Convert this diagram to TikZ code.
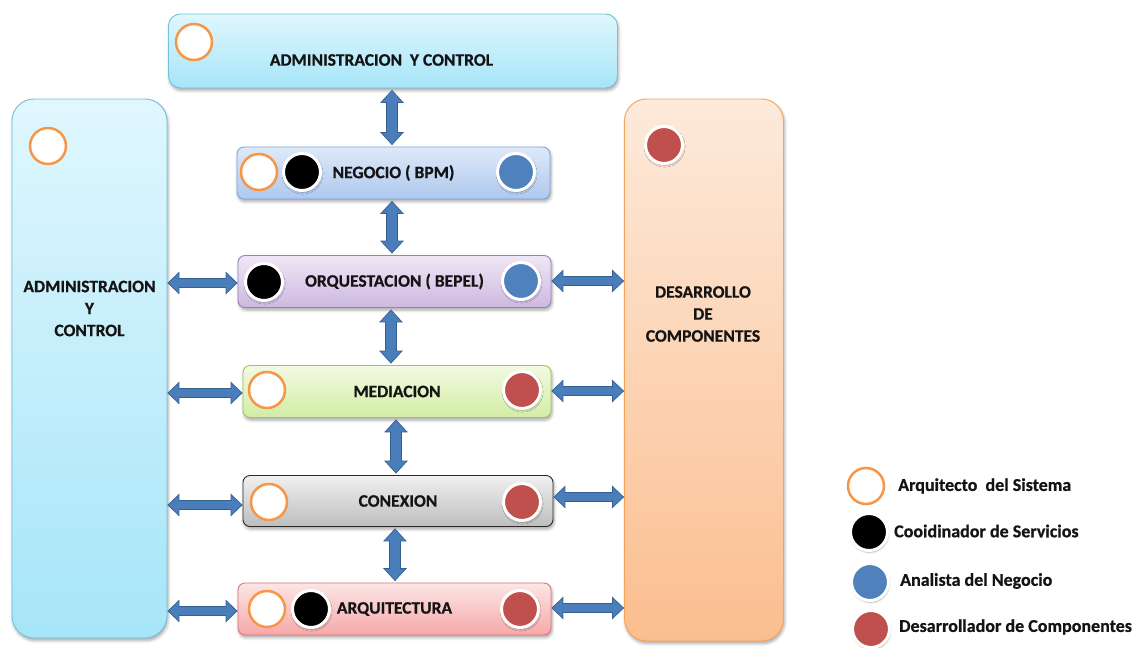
\documentclass[tikz,border=0pt]{standalone}
\usepackage{fontspec}
\setmainfont{Carlito}[BoldFeatures={FakeBold=0.7}]
\usetikzlibrary{calc,shadows,shadows.blur}

% palette
\definecolor{textdark}{HTML}{141414}
\definecolor{ringorange}{HTML}{F79646}
\definecolor{roleblack}{HTML}{000000}
\definecolor{roleblue}{HTML}{4F81BD}
\definecolor{rolered}{HTML}{C0504D}
\definecolor{flowfill}{HTML}{4A7EBB}
\definecolor{flowline}{HTML}{365F91}
\definecolor{cyanA}{HTML}{E0F7FE}\definecolor{cyanB}{HTML}{A6E5F8}\definecolor{cyanD}{HTML}{74C0D6}
\definecolor{peachA}{HTML}{FDEADB}\definecolor{peachB}{HTML}{FBBE8F}\definecolor{peachD}{HTML}{F5A25A}
\definecolor{blueA}{HTML}{DEE9F9}\definecolor{blueB}{HTML}{AEC8EE}\definecolor{blueD}{HTML}{7EA3DA}
\definecolor{lilacA}{HTML}{EFE7F6}\definecolor{lilacB}{HTML}{CDB8E0}\definecolor{lilacD}{HTML}{9A7FC0}
\definecolor{greenA}{HTML}{F3FAE2}\definecolor{greenB}{HTML}{D2EDA4}\definecolor{greenD}{HTML}{A2C265}
\definecolor{greyA}{HTML}{F0F0F0}\definecolor{greyB}{HTML}{BEBEBE}\definecolor{greyD}{HTML}{2A2A2A}
\definecolor{roseA}{HTML}{FDE5E5}\definecolor{roseB}{HTML}{F6A9A9}\definecolor{roseD}{HTML}{D9787A}

% horizontal double block arrow: #1 left end, #2 right end, #3 point giving the height
\newcommand\hlink[3]{%
  \path[flow] let \p1=#1, \p2=#2, \p3=#3 in
    (\x1+0.5pt,\y3) -- ++(11pt,10.5pt) -- ++(0,-6pt) -- (\x2-11.5pt,\y3+4.5pt)
    -- ++(0,6pt) -- (\x2-0.5pt,\y3) -- ++(-11pt,-10.5pt) -- ++(0,6pt)
    -- (\x1+11.5pt,\y3-4.5pt) -- ++(0,-6pt) -- cycle;}
% vertical double block arrow: #1 upper end, #2 lower end, #3 sideways offset
\newcommand\vlink[3]{%
  \path[flow] let \p1=#1, \p2=#2 in
    (\x1+#3,\y1-2pt) -- ++(11pt,-12pt) -- ++(-5.5pt,0) -- (\x1+#3+5.5pt,\y2+14pt)
    -- ++(5.5pt,0) -- (\x1+#3,\y2+2pt) -- ++(-11pt,12pt) -- ++(5.5pt,0)
    -- (\x1+#3-5.5pt,\y1-14pt) -- ++(-5.5pt,0) -- cycle;}

\begin{document}
\begin{tikzpicture}[x=1pt,y=-1pt,
  font=\fontsize{17.5}{22}\selectfont\bfseries,
  box/.style={draw, line width=0.9pt, inner sep=0pt, text=textdark,
    blur shadow={shadow xshift=1pt, shadow yshift=-2.5pt, shadow blur radius=3pt, shadow opacity=35}},
  layer/.style={box, rounded corners=7pt, minimum height=52pt},
  tall/.style={box, rounded corners=22pt},
  txt/.style={inner sep=0pt, text=textdark},
  legendtxt/.style={txt, anchor=west, font=\fontsize{18}{22}\selectfont\bfseries},
  ring/.style={circle, draw=ringorange, fill=white, line width=2.5pt, minimum size=36pt, inner sep=0pt},
  dot/.style={circle, draw=white, fill=#1, line width=3pt, minimum size=37pt, inner sep=0pt,
    blur shadow={shadow xshift=0.6pt, shadow yshift=-1.6pt, shadow blur radius=2pt, shadow opacity=40}},
  flow/.style={fill=flowfill, draw=flowline, line width=0.7pt, line join=miter}
]
\useasboundingbox (0,0) rectangle (1136,648);

% ---- frame boxes
\node[box, rounded corners=12pt, minimum width=449pt, minimum height=74pt,
      draw=cyanD, top color=cyanA, bottom color=cyanB] (top) at (393,51) {};
\node[txt] (toplabel) at (381.5,60) {ADMINISTRACION\ \ Y CONTROL};

\node[tall, minimum width=155pt, minimum height=539pt,
      draw=cyanD, top color=cyanA, bottom color=cyanB] (adm) at (89.5,368.5) {};
\node[txt, align=center] (admlabel) at (89.5,308.5) {ADMINISTRACION\\Y\\CONTROL};

\node[tall, minimum width=159pt, minimum height=542pt,
      draw=peachD, top color=peachA, bottom color=peachB] (des) at (704,370) {};
\node[txt, align=center] (deslabel) at (703,314) {DESARROLLO\\DE\\COMPONENTES};

% ---- layers
\node[layer, minimum width=313pt, draw=blueD, top color=blueA, bottom color=blueB]
  (neg) at (393.5,173) {NEGOCIO ( BPM)};
\node[layer, minimum width=313pt, draw=lilacD, top color=lilacA, bottom color=lilacB]
  (orq) at (394.5,281.5) {ORQUESTACION ( BEPEL)};
\node[layer, minimum width=308pt, draw=greenD, top color=greenA, bottom color=greenB]
  (med) at (397,391.5) {MEDIACION};
\node[layer, minimum width=310pt, minimum height=51pt, draw=greyD, top color=greyA, bottom color=greyB]
  (con) at (398,501) {CONEXION};
\node[layer, minimum width=313pt, draw=roseD, top color=roseA, bottom color=roseB]
  (arq) at (394.5,609) {ARQUITECTURA};

% ---- connectors between the stack
\vlink{(top.south)}{(neg.north)}{-1pt}
\vlink{(neg.south)}{(orq.north)}{-1.5pt}
\vlink{(orq.south)}{(med.north)}{-3.5pt}
\vlink{(med.south)}{(con.north)}{-1pt}
\vlink{(con.south)}{(arq.north)}{-3pt}

% ---- connectors to the side columns
\hlink{(adm.east)}{(orq.west)}{([yshift=-1.5pt]orq.west)}
\hlink{(adm.east)}{(med.west)}{([yshift=-1.5pt]med.west)}
\hlink{(adm.east)}{(con.west)}{([yshift=-4pt]con.west)}
\hlink{(adm.east)}{(arq.west)}{([yshift=-2pt]arq.west)}
\hlink{(orq.east)}{(des.west)}{([yshift=0.5pt]orq.east)}
\hlink{(med.east)}{(des.west)}{([yshift=0.5pt]med.east)}
\hlink{(con.east)}{(des.west)}{([yshift=4pt]con.east)}
\hlink{(arq.east)}{(des.west)}{([yshift=1pt]arq.east)}

% ---- role markers
\node[ring] (topA) at (194,42) {};
\node[ring] (admA) at (48,146) {};
\node[dot=rolered] (desR) at (664,145) {};

\node[ring] (negA) at (259,172) {};
\node[dot=roleblack] (negC) at (302,172) {};
\node[dot=roleblue] (negB) at (516,172) {};

\node[dot=roleblack] (orqC) at (264,282) {};
\node[dot=roleblue] (orqB) at (521,281) {};

\node[ring] (medA) at (267,390) {};
\node[dot=rolered] (medR) at (522,390) {};

\node[ring] (conA) at (269,502) {};
\node[dot=rolered] (conR) at (522,502) {};

\node[ring] (arqA) at (267,609) {};
\node[dot=roleblack] (arqC) at (311,609) {};
\node[dot=rolered] (arqR) at (520,609) {};

% ---- legend
\node[ring] (legA) at (866,486) {};
\node[legendtxt] (legAt) at (898,486) {Arquitecto\ \ del Sistema};
\node[dot=roleblack] (legC) at (869,532) {};
\node[legendtxt] (legCt) at (894,531) {Cooidinador de Servicios};
\node[dot=roleblue] (legB) at (870,582) {};
\node[legendtxt] (legBt) at (900,581) {Analista del Negocio};
\node[dot=rolered] (legR) at (871,629) {};
\node[legendtxt] (legRt) at (899,627) {Desarrollador de Componentes};
\end{tikzpicture}
\end{document}
